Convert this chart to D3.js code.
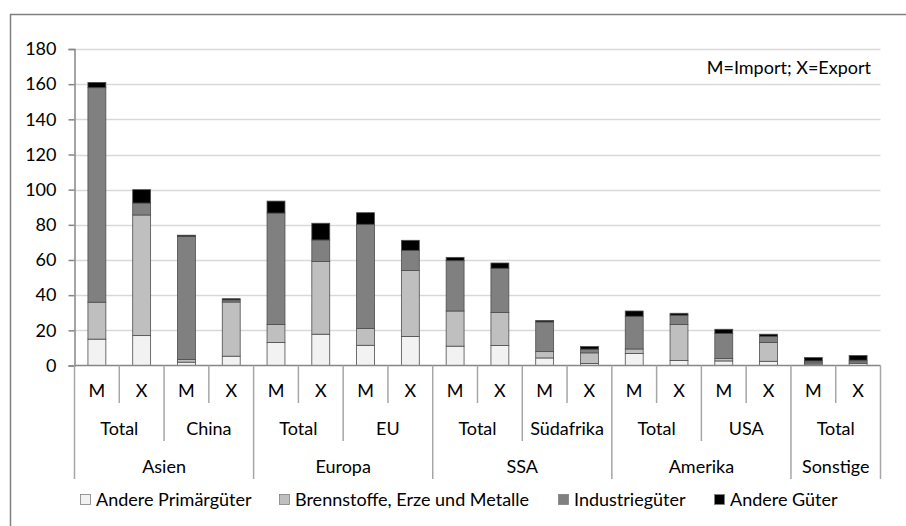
<!DOCTYPE html>
<html>
<head>
<meta charset="utf-8">
<script src="https://cdn.jsdelivr.net/npm/d3@7"></script>
<style>
  body { margin: 0; background: #fff; }
  svg { font-family: Lato, "Liberation Sans", sans-serif; }
</style>
</head>
<body>
<div id="chartdiv"></div>
<script>
// data
let flowLabels = ["M", "X", "M", "X", "M", "X", "M", "X", "M", "X", "M", "X", "M", "X", "M", "X", "M", "X"],
    subLabels = ["Total", "China", "Total", "EU", "Total", "Südafrika", "Total", "USA", "Total"],
    regionLabels = ["Asien", "Europa", "SSA", "Amerika", "Sonstige"],
    regionSpan = [2, 2, 2, 2, 1]; // number of sub groups per region
let seriesNames = ["Andere Primärgüter", "Brennstoffe, Erze und Metalle", "Industriegüter", "Andere Güter"];
let anderePrim = [15, 17, 1.9, 5.3, 13.1, 17.8, 11.5, 16.5, 11, 11.4, 4.3, 1.1, 6.8, 2.8, 2.6, 2.4, 0.8, 1.1],
    brennstoffe = [21, 68.6, 1.5, 30.8, 10.2, 41.3, 9.5, 37.5, 20, 18.7, 3.6, 6.1, 2.6, 20.5, 1.4, 10.7, 0.7, 0.9],
    industrie = [122, 6.8, 70, 1.2, 63.4, 12.3, 59.3, 11.5, 28.6, 25.2, 16.9, 2.1, 18.6, 5.3, 14.2, 3.5, 1.1, 1],
    andereGueter = [3, 7.6, 0.7, 0.7, 6.8, 9.5, 6.6, 5.7, 1.9, 3, 0.8, 1.5, 3, 1.1, 2.4, 1.2, 1.9, 2.7];
let yTicks = [0, 20, 40, 60, 80, 100, 120, 140, 160, 180];
let colors = ["#f2f2f2", "#bfbfbf", "#808080", "#000000"];

// draw
{
    let width = 906,
        height = 526,
        left = 74.5,
        right = 880.5,
        top = 49,
        bottom = 365.5,
        fontSize = 18;

    let rows = flowLabels.map(function(d, i) {
        return {
            idx: i,
            s0: anderePrim[i],
            s1: brennstoffe[i],
            s2: industrie[i],
            s3: andereGueter[i]
        };
    });
    let stacked = d3.stack().keys(["s0", "s1", "s2", "s3"])(rows);

    let x = d3.scaleBand()
        .domain(d3.range(flowLabels.length))
        .range([left, right])
        .paddingInner(0.6)
        .paddingOuter(0.3);
    let step = x.step();
    let y = d3.scaleLinear()
        .domain([0, 180])
        .range([bottom, top]);

    let svg = d3.select("#chartdiv").append("svg")
        .attr("width", width)
        .attr("height", height);

    // outer frame
    svg.append("rect")
        .attr("x", 10.5)
        .attr("y", 14.5)
        .attr("width", width + 20)
        .attr("height", height + 20)
        .attr("fill", "none")
        .attr("stroke", "#7f7f7f")
        .attr("stroke-width", 1.5);

    // grid
    svg.selectAll(".grid")
        .data(yTicks.slice(1))
        .enter()
        .append("line")
        .attr("class", "grid")
        .attr("x1", left)
        .attr("x2", right)
        .attr("y1", function(d) { return Math.round(y(d)) + 0.5; })
        .attr("y2", function(d) { return Math.round(y(d)) + 0.5; })
        .attr("stroke", "#d9d9d9")
        .attr("stroke-width", 1.5);

    // y axis
    let yAxis = d3.axisLeft(y)
        .tickValues(yTicks)
        .tickSize(6)
        .tickPadding(12);
    let ga = svg.append("g")
        .attr("transform", "translate(" + left + ",0)")
        .call(yAxis);
    ga.select(".domain").attr("stroke", "#868686").attr("stroke-width", 1.5);
    ga.selectAll(".tick line").attr("stroke", "#868686").attr("stroke-width", 1.5);
    ga.selectAll(".tick text")
        .attr("font-size", fontSize)
        .attr("font-family", "Lato, sans-serif")
        .attr("fill", "#000");

    // bars
    svg.selectAll(".layer")
        .data(stacked)
        .enter()
        .append("g")
        .attr("class", "layer")
        .attr("fill", function(d, i) { return colors[i]; })
        .selectAll("rect")
        .data(function(d) { return d; })
        .enter()
        .append("rect")
        .attr("x", function(d) { return x(d.data.idx); })
        .attr("y", function(d) { return y(d[1]); })
        .attr("width", x.bandwidth())
        .attr("height", function(d) { return y(d[0]) - y(d[1]); })
        .attr("stroke", "#4d4d4d")
        .attr("stroke-width", 0.8);

    // category axis (3 levels)
    let lineColor = "#a6a6a6";
    svg.append("line")
        .attr("x1", left).attr("x2", right)
        .attr("y1", bottom).attr("y2", bottom)
        .attr("stroke", "#868686").attr("stroke-width", 1.5);

    let levelY = [403, 441, 479],
        textY = [397, 435, 473];

    // level 1: M / X
    svg.selectAll(".sep1")
        .data(d3.range(flowLabels.length + 1))
        .enter()
        .append("line")
        .attr("x1", function(d) { return left + d * step; })
        .attr("x2", function(d) { return left + d * step; })
        .attr("y1", bottom)
        .attr("y2", levelY[0])
        .attr("stroke", lineColor)
        .attr("stroke-width", 1.5);
    svg.selectAll(".lab1")
        .data(flowLabels)
        .enter()
        .append("text")
        .attr("x", function(d, i) { return left + (i + 0.5) * step; })
        .attr("y", textY[0])
        .attr("text-anchor", "middle")
        .attr("font-size", fontSize)
        .text(function(d) { return d; });

    // level 2: sub groups (2 bars each)
    svg.selectAll(".sep2")
        .data(d3.range(subLabels.length + 1))
        .enter()
        .append("line")
        .attr("x1", function(d) { return left + d * 2 * step; })
        .attr("x2", function(d) { return left + d * 2 * step; })
        .attr("y1", levelY[0])
        .attr("y2", levelY[1])
        .attr("stroke", lineColor)
        .attr("stroke-width", 1.5);
    svg.selectAll(".lab2")
        .data(subLabels)
        .enter()
        .append("text")
        .attr("x", function(d, i) { return left + (i * 2 + 1) * step; })
        .attr("y", textY[1])
        .attr("text-anchor", "middle")
        .attr("font-size", fontSize)
        .text(function(d) { return d; });

    // level 3: regions
    let bounds = [0];
    regionSpan.forEach(function(n) { bounds.push(bounds[bounds.length - 1] + n * 2); });
    svg.selectAll(".sep3")
        .data(bounds)
        .enter()
        .append("line")
        .attr("x1", function(d) { return left + d * step; })
        .attr("x2", function(d) { return left + d * step; })
        .attr("y1", levelY[1])
        .attr("y2", levelY[2])
        .attr("stroke", lineColor)
        .attr("stroke-width", 1.5);
    svg.selectAll(".lab3")
        .data(regionLabels)
        .enter()
        .append("text")
        .attr("x", function(d, i) { return left + (bounds[i] + bounds[i + 1]) / 2 * step; })
        .attr("y", textY[2])
        .attr("text-anchor", "middle")
        .attr("font-size", fontSize)
        .text(function(d) { return d; });

    // note
    svg.append("text")
        .attr("x", 871)
        .attr("y", 74)
        .attr("text-anchor", "end")
        .attr("font-size", fontSize)
        .text("M=Import; X=Export");

    // legend
    let legendX = [80, 279, 558, 714];
    let lg = svg.selectAll(".legend")
        .data(seriesNames)
        .enter()
        .append("g")
        .attr("transform", function(d, i) { return "translate(" + legendX[i] + ",494)"; });
    lg.append("rect")
        .attr("x", 0.5).attr("y", 0.5)
        .attr("width", 10).attr("height", 10)
        .attr("fill", function(d, i) { return colors[i]; })
        .attr("stroke", "#808080")
        .attr("stroke-width", 0.8);
    lg.append("text")
        .attr("x", 16)
        .attr("y", 12)
        .attr("font-size", fontSize)
        .text(function(d) { return d; });
}
</script>
</body>
</html>
